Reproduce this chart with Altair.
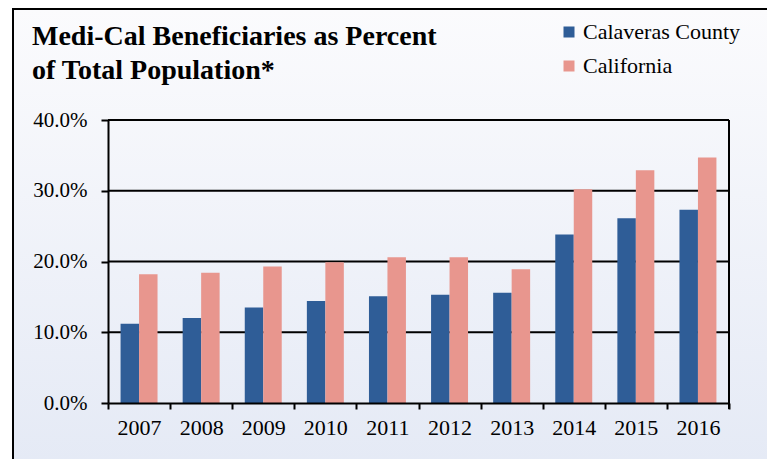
import altair as alt
import pandas as pd

years = ["2007", "2008", "2009", "2010", "2011", "2012", "2013", "2014", "2015", "2016"]
calaveras = [11.2, 12.0, 13.5, 14.4, 15.1, 15.3, 15.6, 23.8, 26.1, 27.3]
california = [18.2, 18.4, 19.3, 19.9, 20.6, 20.6, 18.9, 30.2, 32.9, 34.7]
series = ["Calaveras County", "California"]
colors = ["#2f5d97", "#e8968e"]
y_ticks = [0, 10, 20, 30, 40]
grid_values = [10, 20, 30, 40]
title_lines = ["Medi-Cal Beneficiaries as Percent", "of Total Population*"]

W, H = 621, 283
FONT = "Liberation Serif"

rows = []
for i, yr in enumerate(years):
    rows.append({"year": yr, "series": series[0], "value": calaveras[i] / 100})
    rows.append({"year": yr, "series": series[1], "value": california[i] / 100})
df = pd.DataFrame(rows)
one = pd.DataFrame({"k": [0]})

yscale = alt.Scale(domain=[0, 0.4], nice=False, zero=True)
y_axis = alt.Axis(values=[v / 100 for v in y_ticks], format=".1%", grid=False,
                  domainColor="black", domainWidth=2, tickColor="black",
                  tickWidth=2, tickSize=7, labelFont=FONT, labelFontSize=21,
                  labelColor="black", labelPadding=14, zindex=1, title=None)

bg = alt.Chart(one).mark_rect(
    fill={"gradient": "linear", "x1": 0, "y1": 0, "x2": 0, "y2": 1,
          "stops": [{"offset": 0, "color": "#fbfbfd"}, {"offset": 1, "color": "#e1e7f4"}]},
    stroke="black", strokeWidth=2,
).encode(x=alt.value(-95), x2=alt.value(662), y=alt.value(-111), y2=alt.value(420))

grid = alt.Chart(pd.DataFrame({"value": [v / 100 for v in grid_values]})).mark_rule(
    color="black", strokeWidth=2
).encode(y=alt.Y("value:Q", scale=yscale, axis=y_axis, title=None))

bars = alt.Chart(df).mark_bar().encode(
    x=alt.X("year:N", sort=years, title=None,
            scale=alt.Scale(paddingInner=0, paddingOuter=0),
            axis=alt.Axis(labelAngle=0, tickBand="extent", tickSize=6, tickWidth=2,
                          tickColor="black", domainColor="black", domainWidth=2,
                          labelFont=FONT, labelFontSize=22, labelColor="black",
                          labelPadding=8, grid=False, zindex=1)),
    xOffset=alt.XOffset("series:N", sort=series,
                        scale=alt.Scale(domain=series, paddingOuter=0.68, paddingInner=0)),
    y=alt.Y("value:Q", scale=yscale, title=None, axis=y_axis),
    color=alt.Color("series:N", sort=series,
                    scale=alt.Scale(domain=series, range=colors),
                    legend=alt.Legend(title=None, orient="none", legendX=450, legendY=-99,
                                      symbolType="square", symbolSize=121,
                                      symbolStrokeWidth=0, labelFont=FONT,
                                      labelFontSize=22, labelColor="black",
                                      rowPadding=12, labelOffset=3, padding=0,
                                      labelLimit=300)),
)

right_border = alt.Chart(one).mark_rule(color="black", strokeWidth=2).encode(
    x=alt.value(W), y=alt.value(0), y2=alt.value(H + 6)
)

t1 = alt.Chart(one).mark_text(
    text=title_lines[0], font=FONT, fontSize=28, fontWeight="bold", align="left",
    baseline="alphabetic", color="black"
).encode(x=alt.value(-76), y=alt.value(-75))

t2 = alt.Chart(one).mark_text(
    text=title_lines[1], font=FONT, fontSize=28, fontWeight="bold", align="left",
    baseline="alphabetic", color="black"
).encode(x=alt.value(-76), y=alt.value(-41))

chart = alt.layer(bg, grid, bars, right_border, t1, t2).properties(
    width=W, height=H,
    autosize=alt.AutoSizeParams(type="none"),
    padding={"left": 100, "top": 112, "right": 38, "bottom": 56},
).configure(background="white", font=FONT).configure_view(strokeWidth=0).configure_legend(
    labelFont=FONT, labelFontSize=22, labelColor="black"
)

chart.save("out.html", embed_options={"renderer": "svg", "actions": False})
